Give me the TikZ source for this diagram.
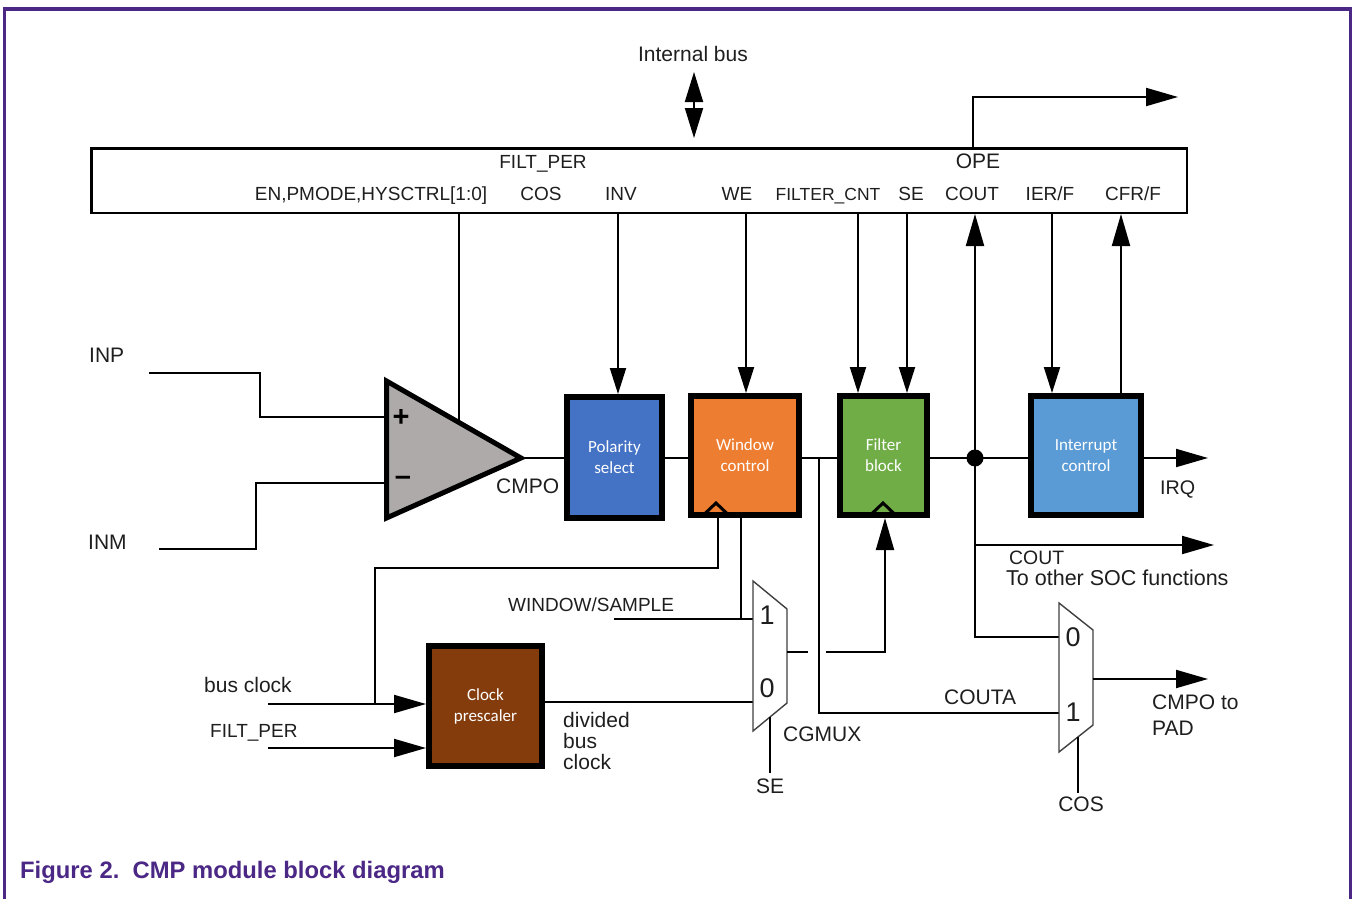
\documentclass[tikz,border=0pt]{standalone}
\usepackage{fontspec}
\setmainfont{Liberation Sans}
\newfontfamily\calib{Carlito}
\usetikzlibrary{arrows.meta}
\definecolor{framec}{HTML}{4B2885}
\definecolor{polblue}{HTML}{4472C4}
\definecolor{winorange}{HTML}{ED7D31}
\definecolor{filtgreen}{HTML}{70AD47}
\definecolor{intblue}{HTML}{5B9BD5}
\definecolor{clkbrown}{HTML}{843C0C}
\definecolor{cmpgray}{HTML}{ADAAA9}
\definecolor{txt}{HTML}{1E1E1E}
\newcommand\fsz[1]{\fontsize{#1}{#1}\selectfont}
\begin{document}
\begin{tikzpicture}[x=1pt,y=-1pt,
  wire/.style={line width=2pt, draw=black},
  arr/.style={wire, -{Triangle[length=32pt,width=18pt]}},
  varr/.style={wire, -{Triangle[length=26pt,width=16pt]}},
  blk/.style={draw=black, line width=6pt, text=white, font=\calib\fontsize{17}{21}\selectfont, align=center, inner sep=0pt},
  lbl/.style={text=txt, inner sep=0pt, font=\fsz{21}},
  rlbl/.style={text=txt, inner sep=0pt, font=\fsz{19}},
  mux/.style={draw=black!75, line width=1.4pt, fill=white, line join=miter},
  dig/.style={text=txt, inner sep=0pt, font=\fsz{27}},
  notch/.style={draw=black, line width=3pt},
]
\useasboundingbox (0,0) rectangle (1352,899);
% frame
\draw[framec, line width=3.3pt] (4.4,899) -- (4.4,9) -- (1350.3,9) -- (1350.3,899);

% register
\node[draw=black, line width=2.5pt, minimum width=1095.5pt, minimum height=64.5pt, inner sep=0pt] (reg) at (639,180.5) {};
\node[rlbl, anchor=base] (lfilt) at (543,168.5) {FILT\_PER};
\node[lbl, anchor=base] (lope) at (978,168) {OPE};
\node[rlbl, anchor=base] (len) at (371,200) {EN,PMODE,HYSCTRL[1:0]};
\node[rlbl, anchor=base] (lcos) at (541,200) {COS};
\node[rlbl, anchor=base] (linv) at (621,200) {INV};
\node[rlbl, anchor=base] (lwe) at (737,200) {WE};
\node[rlbl, anchor=base, font=\fsz{17.5}] (lfc) at (828,200) {FILTER\_CNT};
\node[rlbl, anchor=base] (lse) at (911,200) {SE};
\node[rlbl, anchor=base] (lcout) at (972,200) {COUT};
\node[rlbl, anchor=base] (lier) at (1050,200) {IER/F};
\node[rlbl, anchor=base] (lcfr) at (1133,200) {CFR/F};

% internal bus
\node[lbl, anchor=base] (libus) at (693,62) {Internal bus};
\coordinate (busT) at (694,72);
\coordinate (busB) at (694,138);
\draw[wire, {Triangle[length=30pt,width=18pt]}-{Triangle[length=30pt,width=18pt]}] (busT) -- (busB);

% OPE output
\coordinate (opeEnd) at (1178,97);
\draw[arr] (reg.north -| 973,0) |- (opeEnd);

% blocks
\node[blk, fill=polblue, minimum width=95pt, minimum height=121pt] (pol) at (614.5,457.5) {Polarity\\select};
\node[blk, fill=winorange, minimum width=108pt, minimum height=119pt] (win) at (745,455.5) {Window\\control};
\node[blk, fill=filtgreen, minimum width=87pt, minimum height=119pt] (filt) at (883.5,455.5) {Filter\\block};
\node[blk, fill=intblue, minimum width=110pt, minimum height=119pt] (intc) at (1086,455.5) {Interrupt\\control};
\node[blk, fill=clkbrown, minimum width=113pt, minimum height=120pt] (clk) at (485.5,706) {Clock\\prescaler};

% clock notches
\draw[notch] (705,513.5) -- (716,503) -- (727,513.5);
\draw[notch] (872,513.5) -- (883,503) -- (894,513.5);

% main signal line
\coordinate (mainy) at (0,458);
\coordinate (dot) at (975,458);
\coordinate (irq) at (1208,458);
\coordinate (cmpTip) at (521,458);
\draw[wire] (cmpTip) -- (pol.west |- mainy);
\draw[wire] (pol.east |- mainy) -- (win.west |- mainy);
\draw[wire] (win.east |- mainy) -- (filt.west |- mainy);
\draw[wire] (filt.east |- mainy) -- (intc.west |- mainy);
\draw[arr] (intc.east |- mainy) -- (irq);
\fill (dot) circle (8.5pt);

% register control lines
\coordinate (xen) at (459,420);
\draw[wire] (reg.south -| xen) -- (xen);
\draw[varr] (reg.south -| 618,0) -- (pol.north -| 618,0);
\draw[varr] (reg.south -| 746,0) -- (win.north -| 746,0);
\draw[varr] (reg.south -| 858,0) -- (filt.north -| 858,0);
\draw[varr] (reg.south -| 907,0) -- (filt.north -| 907,0);
\draw[varr] (reg.south -| 1052,0) -- (intc.north -| 1052,0);
\draw[arr] (intc.north -| 1121,0) -- (reg.south -| 1121,0);
\draw[arr] (dot) -- (reg.south -| dot);

% comparator inputs
\coordinate (inpS) at (149,373);
\coordinate (inmS) at (159,549);
\coordinate (cmpP) at (386,417);
\coordinate (cmpM) at (386,483);
\draw[wire] (inpS) -- (260,373) |- (cmpP);
\draw[wire] (inmS) -- (256,549) |- (cmpM);
\node[lbl, anchor=base west] (linp) at (89,362.5) {INP};
\node[lbl, anchor=base west] (linm) at (88,549.5) {INM};

% comparator
\draw[line width=5pt, fill=cmpgray, line join=miter, miter limit=20] (386.5,381) -- (cmpTip) -- (386.5,518) -- cycle;
\node[inner sep=0pt, font=\fsz{29}\bfseries] (lplus) at (401,418) {+};
\node[inner sep=0pt, font=\fsz{29}\bfseries] (lminus) at (403,481) {\textendash};
\node[lbl, anchor=base west] (lcmpo) at (496,493.5) {CMPO};
\node[rlbl, anchor=base west, font=\fsz{19.7}] (lirq) at (1160,494) {IRQ};

% COUT to SOC
\coordinate (soc) at (1214,545);
\draw[arr] (dot |- soc) -- (soc);
\node[rlbl, anchor=base west, font=\fsz{19.4}] (lcout2) at (1009,564) {COUT};
\node[lbl, anchor=base west, font=\fsz{21.5}] (lsoc) at (1006,585.5) {To other SOC functions};

% window control outputs
\draw[wire] (win.south -| 718,0) |- (375,568) -- (375,704);
\draw[wire] (win.south -| 741,0) -- (741,619);
\coordinate (wsS) at (614,619);
\coordinate (cg1) at (753,619);
\draw[wire] (wsS) -- (cg1);
\node[rlbl, anchor=base west] (lws) at (508,611) {WINDOW/SAMPLE};

% COUTA line
\coordinate (cos1) at (1059,713);
\draw[wire] (819,458) -- (819,713) -- (cos1);
\node[lbl, anchor=base west] (lcouta) at (944,704.5) {COUTA};

% COUT to COS mux 0
\coordinate (cos0) at (1059,637);
\draw[wire] (dot) |- (cos0);

% clock inputs
\coordinate (bcS) at (268,704);
\coordinate (fpS) at (268,748);
\draw[arr] (bcS) -- (clk.west |- bcS);
\draw[arr] (fpS) -- (clk.west |- fpS);
\node[lbl, anchor=base west] (lbc) at (204,692) {bus clock};
\node[rlbl, anchor=base west] (lfp) at (210,737) {FILT\_PER};

% divided bus clock
\coordinate (cg0) at (753,702);
\draw[wire] (clk.east |- cg0) -- (cg0);
\node[lbl, anchor=base west] (ldiv1) at (563,727) {divided};
\node[lbl, anchor=base west] (ldiv2) at (563,748) {bus};
\node[lbl, anchor=base west] (ldiv3) at (563,769) {clock};

% CGMUX
\draw[mux] (753,581) -- (787,609) -- (787,703) -- (753,731) -- cycle;
\node[dig] (d1) at (767,615) {1};
\node[dig] (d0) at (767,688) {0};
\coordinate (cgOut) at (787,652);
\draw[wire] (cgOut) -- (808,652);
\draw[arr] (826,652) -| (filt.south -| 885,0);
\coordinate (seT) at (770,717);
\draw[wire] (seT) -- (770,773);
\node[lbl, anchor=base] (lse2) at (770,793.5) {SE};
\node[lbl, anchor=base west] (lcg) at (783,741.5) {CGMUX};

% COS mux
\draw[mux] (1059,603) -- (1093,630) -- (1093,725) -- (1059,752) -- cycle;
\node[dig] (e0) at (1073,637) {0};
\node[dig] (e1) at (1073,712) {1};
\coordinate (pad) at (1208,679);
\draw[arr] (1093,679) -- (pad);
\node[lbl, anchor=base west] (lpad1) at (1152,709.5) {CMPO to};
\node[lbl, anchor=base west] (lpad2) at (1152,735.5) {PAD};
\coordinate (cosT) at (1078,737);
\draw[wire] (cosT) -- (1078,793);
\node[lbl, anchor=base] (lcos2) at (1081,811.5) {COS};

% caption
\node[anchor=base west, inner sep=0pt, text=framec, font=\fsz{23.8}\bfseries] (cap) at (20,878) {Figure 2.\ \ CMP module block diagram};
\end{tikzpicture}
\end{document}
